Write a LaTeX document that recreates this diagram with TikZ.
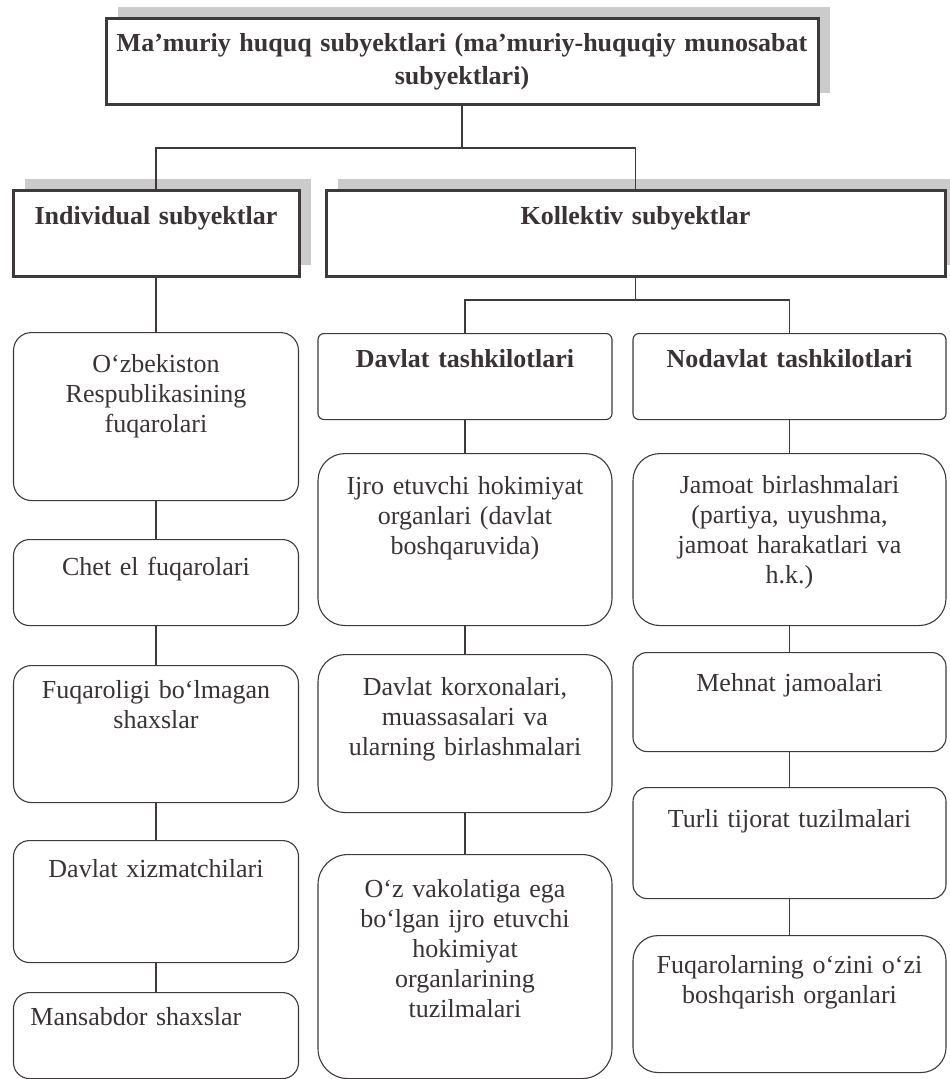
\documentclass[tikz,border=0pt]{standalone}
\usepackage{fontspec}
\setmainfont{Liberation Serif}
\usetikzlibrary{shadows}

\definecolor{linecol}{HTML}{3E3A3B}
\definecolor{txtcol}{HTML}{3A3335}
\definecolor{shadowcol}{HTML}{CBCBCB}

\tikzset{
  every node/.style={font=\fontsize{26}{30}\selectfont, text=txtcol},
  head/.style={draw=linecol, line width=3pt, fill=white, align=center, anchor=north,
    inner xsep=0pt, inner ysep=0pt, font=\fontsize{26}{33}\selectfont\bfseries,
    drop shadow={shadow xshift=12pt, shadow yshift=12pt, fill=shadowcol, opacity=1}},
  cell/.style={draw=linecol, line width=1.1pt, fill=white, rounded corners=#1,
    align=center, anchor=north, inner xsep=0pt, inner ysep=0pt},
  cell/.default=16pt,
  lcol/.style={text width=285pt},
  mcol/.style={text width=294pt},
  rcol/.style={text width=313pt},
  bold/.style={font=\fontsize{26}{30}\selectfont\bfseries},
  link/.style={draw=linecol, line width=1.1pt},
}

\begin{document}
\begin{tikzpicture}[x=1pt,y=-1pt]
\useasboundingbox (0,0) rectangle (950,1079);

% headers
\node[head, text width=712pt, text height=33pt, text depth=53pt] (subj) at (462,17)
  {Ma’muriy huquq subyektlari (ma’muriy-huquqiy munosabat\\subyektlari)};
\node[head, text width=286pt, text height=34pt, text depth=52pt] (indiv) at (156,189)
  {Individual subyektlar};
\node[head, text width=619pt, text height=34pt, text depth=52pt] (kollek) at (635.5,189)
  {Kollektiv subyektlar};

% individual column
\node[cell=18pt, lcol, text height=40pt, text depth=128pt] (fuq) at (156,332)
  {O‘zbekiston\\Respublikasining\\fuqarolari};
\node[cell, lcol, text height=36pt, text depth=50pt] (chet) at (156,539)
  {Chet el fuqarolari};
\node[cell=18pt, lcol, text height=33pt, text depth=104pt] (fuqsiz) at (156,665)
  {Fuqaroligi bo‘lmagan\\shaxslar};
\node[cell, lcol, text height=37pt, text depth=85pt] (xizmat) at (156,840)
  {Davlat xizmatchilari};
\node[cell, text width=251pt, inner xsep=17pt, align=left, text height=33pt, text depth=53pt] (mansab) at (156,992)
  {Mansabdor shaxslar};

% davlat column
\node[cell=6pt, mcol, bold, text height=34pt, text depth=52pt] (davlat) at (465,333)
  {Davlat tashkilotlari};
\node[cell=27pt, mcol, text height=41pt, text depth=131pt] (ijro) at (465,453)
  {Ijro etuvchi hokimiyat\\organlari (davlat\\boshqaruvida)};
\node[cell=27pt, mcol, text height=41pt, text depth=117pt] (korxona) at (465,654)
  {Davlat korxonalari,\\muassasalari va\\ularning birlashmalari};
\node[cell=30pt, mcol, text height=43pt, text depth=181pt] (vakolat) at (465,854)
  {O‘z vakolatiga ega\\bo‘lgan ijro etuvchi\\hokimiyat\\organlarining\\tuzilmalari};

% nodavlat column
\node[cell=6pt, rcol, bold, text height=34pt, text depth=52pt] (nodavlat) at (789.5,333)
  {Nodavlat tashkilotlari};
\node[cell=27pt, rcol, text height=40pt, text depth=132pt] (jamoat) at (789.5,453)
  {Jamoat birlashmalari\\(partiya, uyushma,\\jamoat harakatlari va\\h.k.)};
\node[cell=14pt, rcol, text height=39pt, text depth=60pt] (mehnat) at (789.5,652)
  {Mehnat jamoalari};
\node[cell=14pt, rcol, text height=40pt, text depth=71pt] (tijorat) at (789.5,787)
  {Turli tijorat tuzilmalari};
\node[cell=25pt, rcol, text height=38pt, text depth=99pt] (ozini) at (789.5,935)
  {Fuqarolarning o‘zini o‘zi\\boshqarish organlari};

% connectors
\coordinate (split1) at (462,148);
\coordinate (split2) at (635.5,300);
\draw[link] (subj.south) -- (split1);
\draw[link] (indiv.north) |- (split1) -| (kollek.north);
\draw[link] (kollek.south) -- (split2);
\draw[link] (davlat.north) |- (split2) -| (nodavlat.north);

\draw[link] (indiv.south) -- (fuq.north);
\draw[link] (fuq.south) -- (chet.north);
\draw[link] (chet.south) -- (fuqsiz.north);
\draw[link] (fuqsiz.south) -- (xizmat.north);
\draw[link] (xizmat.south) -- (mansab.north);

\draw[link] (davlat.south) -- (ijro.north);
\draw[link] (ijro.south) -- (korxona.north);
\draw[link] (korxona.south) -- (vakolat.north);

\draw[link] (nodavlat.south) -- (jamoat.north);
\draw[link] (jamoat.south) -- (mehnat.north);
\draw[link] (mehnat.south) -- (tijorat.north);
\draw[link] (tijorat.south) -- (ozini.north);
\end{tikzpicture}
\end{document}
